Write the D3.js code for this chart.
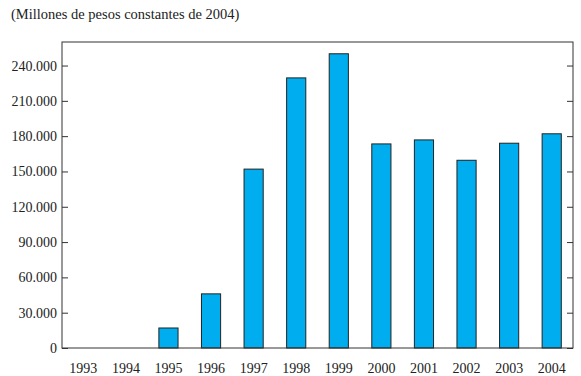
<!DOCTYPE html>
<html>
<head>
<meta charset="utf-8">
<script src="https://cdn.jsdelivr.net/npm/d3@7"></script>
<style>
  body { margin: 0; background: #fff; }
  text { font-family: "Liberation Serif", "DejaVu Serif", serif; fill: #222; }
</style>
</head>
<body>
<svg width="581" height="376"></svg>
<script>
// data
var years = ["1993", "1994", "1995", "1996", "1997", "1998", "1999", "2000", "2001", "2002", "2003", "2004"];
var values = [0, 0, 17000, 46000, 152000, 229500, 250000, 173400, 176800, 159500, 174000, 182000];
var yTicks = [0, 30000, 60000, 90000, 120000, 150000, 180000, 210000, 240000];
var yMax = 260000;

var margin = {
        top: 42,
        right: 8,
        bottom: 28,
        left: 62
    },
    width = 581 - margin.left - margin.right,
    height = 376 - margin.top - margin.bottom;

var serif = "'Liberation Serif', 'DejaVu Serif', serif";

var fmt = d3.formatLocale({
    decimal: ",",
    thousands: ".",
    grouping: [3],
    currency: ["", ""]
}).format(",");

var x = d3.scaleBand()
    .domain(years)
    .range([0, width])
    .paddingInner(0.55)
    .paddingOuter(0.275);

var y = d3.scaleLinear()
    .domain([0, yMax])
    .range([height, 0]);

var svg = d3.select("svg");

svg.append("text")
    .attr("x", 11)
    .attr("y", 19)
    .style("font-size", "14.5px")
    .style("font-family", serif)
    .text("(Millones de pesos constantes de 2004)");

var g = svg.append("g")
    .attr("transform", "translate(" + margin.left + "," + margin.top + ")");

// bars (skip the zero years)
g.selectAll(".bar")
    .data(years.map(function(yr, i) { return { year: yr, value: values[i] }; })
        .filter(function(d) { return d.value > 0; }))
    .enter().append("rect")
    .attr("class", "bar")
    .attr("x", function(d) { return x(d.year); })
    .attr("y", function(d) { return y(d.value); })
    .attr("width", x.bandwidth())
    .attr("height", function(d) { return height - y(d.value); })
    .attr("fill", "#00aeef")
    .attr("stroke", "#222")
    .attr("stroke-width", 1);

// left axis, ticks pointing inward
var yAxis = g.append("g")
    .call(d3.axisLeft(y)
        .tickValues(yTicks)
        .tickSizeInner(-6)
        .tickSizeOuter(0)
        .tickFormat(fmt));
yAxis.select(".domain").remove();
yAxis.selectAll("line").attr("stroke", "#333");
yAxis.selectAll("text")
    .attr("x", -5)
    .style("font-size", "14px")
    .style("font-family", serif)
    .attr("fill", "#222");

// right axis ticks, no labels
var yAxisR = g.append("g")
    .attr("transform", "translate(" + width + ",0)")
    .call(d3.axisRight(y)
        .tickValues(yTicks)
        .tickSizeInner(-6)
        .tickSizeOuter(0)
        .tickFormat(""));
yAxisR.select(".domain").remove();
yAxisR.selectAll("line").attr("stroke", "#333");

// bottom labels, no ticks
var xAxis = g.append("g")
    .attr("transform", "translate(0," + height + ")")
    .call(d3.axisBottom(x).tickSize(0).tickPadding(15));
xAxis.select(".domain").remove();
xAxis.selectAll("text")
    .style("font-size", "14px")
    .style("font-family", serif)
    .attr("fill", "#222");

// frame
g.append("rect")
    .attr("x", 0)
    .attr("y", 0)
    .attr("width", width)
    .attr("height", height)
    .attr("fill", "none")
    .attr("stroke", "#333")
    .attr("stroke-width", 1);
</script>
</body>
</html>
